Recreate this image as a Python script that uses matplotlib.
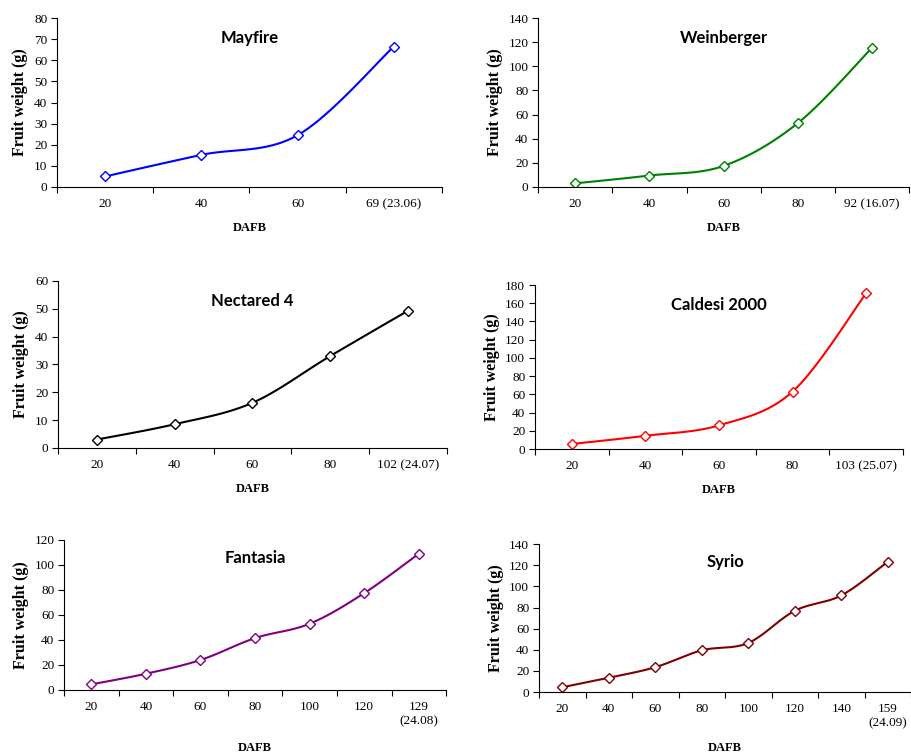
import matplotlib
matplotlib.use("Agg")
import matplotlib.pyplot as plt
import numpy as np

# data (fruit weight in g vs days after full bloom)
mayfire_labels = ["20", "40", "60", "69 (23.06)"]
mayfire_vals = [5.0, 15.2, 24.5, 66.5]

weinberger_labels = ["20", "40", "60", "80", "92 (16.07)"]
weinberger_vals = [3.0, 9.5, 17.5, 53.0, 115.5]

nectared_labels = ["20", "40", "60", "80", "102 (24.07)"]
nectared_vals = [3.0, 8.5, 16.2, 33.0, 49.3]

caldesi_labels = ["20", "40", "60", "80", "103 (25.07)"]
caldesi_vals = [5.5, 14.5, 26.0, 63.0, 171.0]

fantasia_labels = ["20", "40", "60", "80", "100", "120", "129\n(24.08)"]
fantasia_vals = [4.5, 13.0, 24.0, 41.5, 53.0, 77.5, 109.0]

syrio_labels = ["20", "40", "60", "80", "100", "120", "140", "159\n(24.09)"]
syrio_vals = [4.5, 13.5, 23.5, 39.5, 46.5, 77.0, 91.5, 123.5]

serif = "Liberation Serif"
sans = "Lato"


def smooth(x, y, steps=20):
    # Catmull-Rom curve through the points (like Excel's smoothed line)
    x = np.asarray(x, float); y = np.asarray(y, float)
    px = np.concatenate([[x[0]], x, [x[-1]]])
    py = np.concatenate([[y[0]], y, [y[-1]]])
    xs, ys = [], []
    t = np.linspace(0, 1, steps)
    for i in range(1, len(px) - 2):
        for p, out in ((px, xs), (py, ys)):
            p0, p1, p2, p3 = p[i - 1], p[i], p[i + 1], p[i + 2]
            out.extend(0.5 * ((2 * p1) + (-p0 + p2) * t
                              + (2 * p0 - 5 * p1 + 4 * p2 - p3) * t ** 2
                              + (-p0 + 3 * p1 - 3 * p2 + p3) * t ** 3))
    return xs, ys


def panel(rect, title, labels, vals, color, ymax, ystep, dafb_off):
    ax = fig.add_axes(rect)
    n = len(labels)
    x = np.arange(n) + 0.5
    sx, sy = smooth(x, vals)
    ax.plot(sx, sy, color=color, lw=1.5)
    ax.plot(x, vals, ls="none", marker="D", ms=5.5, mfc="white", mec=color, mew=1.0)
    ax.set_xlim(0, n)
    ax.set_ylim(0, ymax)
    ax.set_yticks(np.arange(0, ymax + 1, ystep))
    ax.set_xticks(np.arange(n + 1))
    ax.set_xticklabels([])
    ax.set_xticks(x, minor=True)
    ax.set_xticklabels(labels, minor=True, fontfamily=serif, fontsize=9.5,
                       linespacing=1.25)
    ax.tick_params(axis="x", which="major", direction="out", length=4, width=0.8)
    ax.tick_params(axis="x", which="minor", length=0, pad=8)
    ax.tick_params(axis="y", direction="out", length=4, width=0.8, pad=3)
    for lab in ax.get_yticklabels():
        lab.set_fontfamily(serif)
        lab.set_fontsize(9.5)
    for s in ("top", "right"):
        ax.spines[s].set_visible(False)
    ax.set_ylabel("Fruit weight (g)", fontfamily=serif, fontweight="bold",
                  fontsize=11.5, labelpad=4)
    ax.text(0.5, 0.88, title, transform=ax.transAxes, ha="center", va="center",
            fontfamily=sans, fontweight="bold", fontsize=12)
    ax.annotate("DAFB", xy=(0.5, 0), xycoords="axes fraction",
                xytext=(0, -dafb_off * 0.72), textcoords="offset points",
                ha="center", va="center", fontfamily=serif, fontweight="bold",
                fontsize=9)
    return ax


fig = plt.figure(figsize=(9.12, 7.54), dpi=100)

panel([0.0625, 0.752, 0.422, 0.224], "Mayfire", mayfire_labels, mayfire_vals,
      "#0000FF", 80, 10, 41)
panel([0.590, 0.752, 0.407, 0.224], "Weinberger", weinberger_labels, weinberger_vals,
      "#008000", 140, 20, 41)
panel([0.0636, 0.406, 0.4265, 0.2215], "Nectared 4", nectared_labels, nectared_vals,
      "black", 60, 10, 41)
panel([0.5866, 0.4045, 0.4035, 0.2175], "Caldesi 2000", caldesi_labels, caldesi_vals,
      "#FF0000", 180, 20, 41)
panel([0.0702, 0.0849, 0.419, 0.199], "Fantasia", fantasia_labels, fantasia_vals,
      "#800080", 120, 20, 58)
panel([0.591, 0.0822, 0.408, 0.196], "Syrio", syrio_labels, syrio_vals,
      "#800000", 140, 20, 56)

fig.savefig("out.png", dpi=100)
